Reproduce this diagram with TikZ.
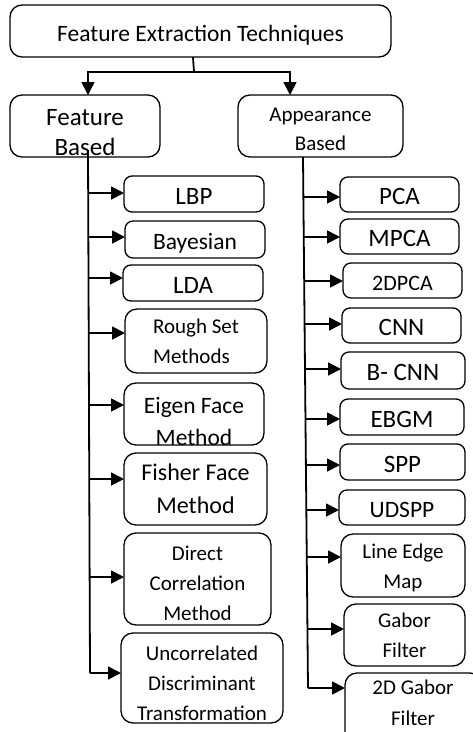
\documentclass[tikz,border=0pt]{standalone}
\usepackage{fontspec}
\setmainfont{Carlito}
\usetikzlibrary{arrows.meta}
\begin{document}
\begin{tikzpicture}[x=1pt,y=-1pt,
  box/.style={draw, line width=1.3pt, rounded corners=8pt, inner sep=0pt, outer sep=0pt, align=center},
  tall/.style={rounded corners=12pt},
  one/.style={text height=20pt, text depth=0pt},
  fbig/.style={font=\fontsize{25}{30}\selectfont},
  fmid/.style={font=\fontsize{23.5}{30}\selectfont},
  fsml/.style={font=\fontsize{21}{30}\selectfont},
  lbl/.style={inner sep=0pt, align=center},
  conn/.style={line width=1.8pt},
  arr/.style={conn, -{Triangle[length=13pt,width=13pt]}},
]
\useasboundingbox (0,0) rectangle (472,732);

% top and second level
\node[box, tall, one, fmid, minimum width=381pt, minimum height=52pt] (top) at (200.5,31) {Feature Extraction Techniques};
\node[box, tall, minimum width=150pt, minimum height=62pt] (fb) at (85,126) {};
\begin{scope}
  \clip[rounded corners=12pt] (fb.south west) rectangle (fb.north east);
  \node[lbl, fbig] (fbt) at (85,133) {Feature\\Based};
\end{scope}
\node[box, tall, minimum width=165pt, minimum height=62pt] (ab) at (320.5,126) {};
\node[lbl, fsml, font=\fontsize{21}{29}\selectfont] (abt) at (320.5,129) {Appearance\\Based};

% left children
\node[box, one, fbig, minimum width=140pt, minimum height=36pt] (lbp) at (194,194) {LBP};
\node[box, one, fmid, minimum width=140pt, minimum height=37pt] (bay) at (195,239.5) {Bayesian};
\node[box, one, fbig, minimum width=140pt, minimum height=36pt] (lda) at (193,283) {LDA};
\node[box, tall, fsml, align=left, minimum width=142pt, minimum height=64pt] (rough) at (196,341) {Rough Set\\Methods};
\node[box, tall, minimum width=140pt, minimum height=62pt] (eigen) at (194,414) {};
\begin{scope}
  \clip[rounded corners=12pt] (eigen.south west) rectangle (eigen.north east);
  \node[lbl, font=\fontsize{23.5}{32}\selectfont] (eigent) at (194,421) {Eigen Face\\Method};
\end{scope}
\node[box, tall, font=\fontsize{24}{33}\selectfont, minimum width=143pt, minimum height=72pt] (fisher) at (195.5,489) {Fisher Face\\Method};
\node[box, tall, minimum width=147pt, minimum height=92pt] (direct) at (197.5,579) {};
\node[lbl, fsml] (directt) at (197.5,583) {Direct\\Correlation\\Method};
\node[box, tall, minimum width=162pt, minimum height=90pt] (uncorr) at (202,678) {};
\begin{scope}
  \clip[rounded corners=12pt] (uncorr.south west) rectangle (uncorr.north east);
  \node[lbl, fsml] (uncorrt) at (202,683) {Uncorrelated\\Discriminant\\Transformation};
\end{scope}

% right children
\node[box, one, fbig, minimum width=119pt, minimum height=35pt] (pca) at (399.5,194.5) {PCA};
\node[box, one, fbig, minimum width=119pt, minimum height=35pt] (mpca) at (399.5,236.5) {MPCA};
\node[box, one, font=\fontsize{22}{30}\selectfont, minimum width=119pt, minimum height=35pt] (pcatwo) at (402.5,280.5) {2DPCA};
\node[box, one, fbig, minimum width=119pt, minimum height=35pt] (cnn) at (401.5,325.5) {CNN};
\node[box, one, fbig, minimum width=124pt, minimum height=37pt] (bcnn) at (403,370.5) {B- CNN};
\node[box, one, fbig, minimum width=124pt, minimum height=36pt] (ebgm) at (402,417) {EBGM};
\node[box, one, fbig, minimum width=125pt, minimum height=36pt] (spp) at (402.5,462) {SPP};
\node[box, one, fmid, minimum width=126pt, minimum height=35pt] (udspp) at (402,507.5) {UDSPP};
\node[box, tall, minimum width=124pt, minimum height=63pt] (lem) at (403,565.5) {};
\node[lbl, fsml] (lemt) at (403,568) {Line Edge\\Map};
\node[box, tall, fsml, minimum width=121pt, minimum height=62pt] (gabor) at (404.5,635) {Gabor\\Filter};
\node[box, tall, minimum width=137pt, minimum height=72pt] (gabtwo) at (413.5,709) {};
\node[lbl, font=\fontsize{21}{31}\selectfont] (gabtwot) at (413,703) {2D Gabor\\Filter};

% connectors from the top box
\coordinate (j) at (194,72);
\draw[conn] ([xshift=-7.5pt]top.south) -- (j);
\draw[arr] (j) -| ([xshift=3pt]fb.north);
\draw[arr] (j) -| ([xshift=-30.5pt]ab.north);

% left trunk
\coordinate (lt) at (88,150);
\coordinate (lb) at (90,673);
\draw[conn] (lt) -- (lb);
\foreach \n/\x/\y in {lbp/88.16/193, bay/88.33/237, lda/88.49/278, rough/88.7/333,
  eigen/89/405, fisher/89.26/479, direct/89.63/577, uncorr/90/673}{
  \coordinate (t\n) at (\x,\y);
  \draw[arr] (t\n) -- (t\n -| \n.west);
}

% right trunk
\coordinate (rt) at (303,157);
\coordinate (rb) at (308,688);
\draw[conn] (rt) -- (rb);
\foreach \n/\x/\y in {pca/303.38/197, mpca/303.75/237, pcatwo/304.17/281, cnn/304.57/324,
  bcnn/305/369, ebgm/305.47/419, spp/305.9/465, udspp/306.33/510, lem/306.77/557,
  gabor/307.44/629, gabtwo/308/688}{
  \coordinate (t\n) at (\x,\y);
  \draw[arr] (t\n) -- (t\n -| \n.west);
}
\end{tikzpicture}
\end{document}
